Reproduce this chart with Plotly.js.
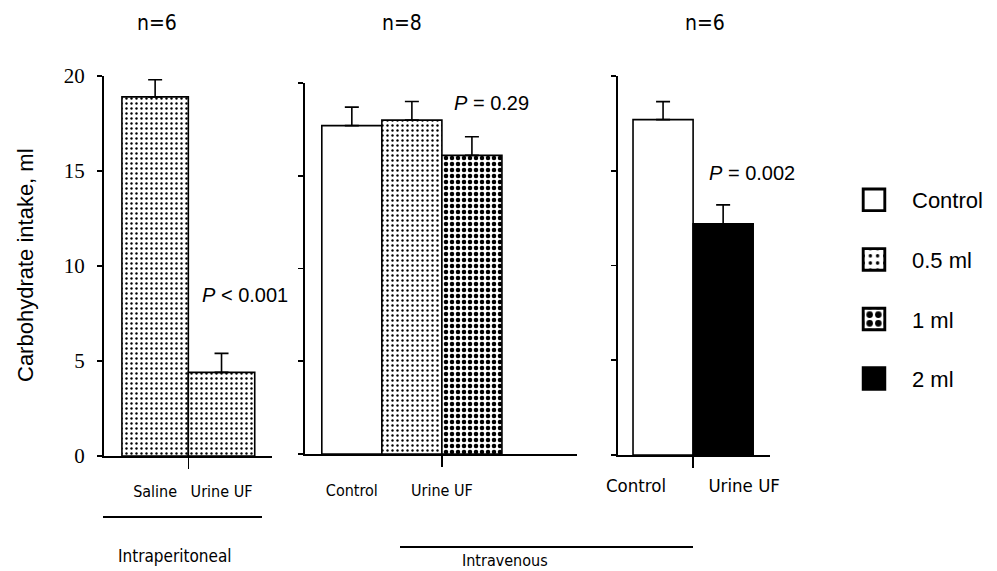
<!DOCTYPE html>
<html>
<head>
<meta charset="utf-8">
<script src="https://cdn.plot.ly/plotly-3.0.1.min.js"></script>
<style>html,body{margin:0;padding:0;background:#fff}#chart{width:997px;height:571px}</style>
</head>
<body>
<div id="chart"></div>
<script>
// ---- data ----
const groupNames = ["Control", "0.5 ml", "1 ml", "2 ml"];
// Panel 1: intraperitoneal (n=6)
const ipCategories = ["Saline", "Urine UF"];
const ipValues = [18.9, 4.4];
const ipSem = [0.9, 1.0];
// Panel 2: intravenous (n=8): Control, 0.5 ml UF, 1 ml UF
const iv1Categories = ["Control", "Urine UF"];
const iv1Values = [17.7, 18.0, 16.1];
const iv1Sem = [1.0, 1.0, 1.0];
// Panel 3: intravenous (n=6): Control, 2 ml UF
const iv2Categories = ["Control", "Urine UF"];
const iv2Values = [17.7, 12.2];
const iv2Sem = [0.95, 1.0];
const nLabels = ["n=6", "n=8", "n=6"];
const pLabels = ["<i>P</i> < 0.001", "<i>P</i> = 0.29", "<i>P</i> = 0.002"];
const routeLabels = ["Intraperitoneal", "Intravenous"];
const yTitle = "Carbohydrate intake, ml";

// ---- helpers ----
const W = 997, H = 571;
const fx = p => p / W, fy = p => 1 - p / H;
const narrow = "Liberation Sans Narrow, DejaVu Sans Condensed, Liberation Sans, Arial, sans-serif";
const sans = "Liberation Sans, Arial, Helvetica, sans-serif";

const styles = {
  "Control": {color: "white"},
  "0.5 ml": {color: "white", pattern: {shape: ".", fgcolor: "black", bgcolor: "white", size: 5, solidity: 0.18}},
  "1 ml": {color: "white", pattern: {shape: ".", fgcolor: "black", bgcolor: "white", size: 6, solidity: 0.45}},
  "2 ml": {color: "black"}
};

function bar(group, xs, ys, sem, xa, ya, showlegend) {
  return {
    type: "bar", x: xs, y: ys, xaxis: xa, yaxis: ya, width: 1,
    name: group, legendgroup: group, showlegend: showlegend,
    marker: Object.assign({line: {color: "black", width: 1.6}}, styles[group]),
    error_y: {type: "data", symmetric: false, array: sem, arrayminus: sem.map(() => 0),
              color: "black", thickness: 1.6, width: 7},
    hoverinfo: "skip"
  };
}

const idx = a => a.map((_, i) => i);
const data = [
  bar("Control", [0], [iv1Values[0]], [iv1Sem[0]], "x2", "y2", true),
  bar("Control", [0], [iv2Values[0]], [iv2Sem[0]], "x3", "y3", false),
  bar("0.5 ml", idx(ipValues), ipValues, ipSem, "x", "y", true),
  bar("0.5 ml", [1], [iv1Values[1]], [iv1Sem[1]], "x2", "y2", false),
  bar("1 ml", [2], [iv1Values[2]], [iv1Sem[2]], "x2", "y2", true),
  bar("2 ml", [1], [iv2Values[1]], [iv2Sem[1]], "x3", "y3", true)
];

function xaxis(anchor, domainPx, range, tickvals, ticktext, boundary, fsize, standoff) {
  return {
    anchor: anchor,
    domain: [fx(domainPx[0]), fx(domainPx[1])], range: range,
    showline: true, linecolor: "black", linewidth: 2, zeroline: false, showgrid: false,
    tickmode: "array", tickvals: tickvals, ticktext: ticktext, ticks: "", ticklen: 0,
    ticklabelstandoff: standoff,
    tickfont: {family: narrow, size: fsize, color: "black"},
    minor: {tickmode: "array", tickvals: boundary, ticks: "outside", ticklen: 11, tickwidth: 1.6, tickcolor: "black"},
    fixedrange: true
  };
}
function yaxis(anchor, domainPx, range, labels) {
  return {
    anchor: anchor,
    domain: [fy(domainPx[1]), fy(domainPx[0])], range: range,
    showline: true, linecolor: "black", linewidth: 2, zeroline: false, showgrid: false,
    tickmode: "linear", tick0: 0, dtick: 5, ticks: "outside", ticklen: 5, tickwidth: 1.6, tickcolor: "black",
    showticklabels: labels, ticklabelstandoff: 8,
    tickfont: {family: "Liberation Serif, Times New Roman, serif", size: 21, color: "black"},
    fixedrange: true
  };
}

const ann = (text, xp, yp, size, family, extra) => Object.assign({
  text: text, xref: "paper", yref: "paper", x: fx(xp), y: fy(yp),
  xanchor: "center", yanchor: "middle", showarrow: false,
  font: {family: family, size: size, color: "black"}
}, extra || {});

const layout = {
  width: W, height: H,
  margin: {l: 0, r: 0, t: 0, b: 0},
  paper_bgcolor: "white", plot_bgcolor: "rgba(0,0,0,0)",
  barmode: "overlay",
  xaxis: xaxis("y", [104, 272], [-0.77, 1.76], idx(ipCategories), ipCategories, [0.5], 16, 20),
  yaxis: yaxis("x", [76, 456], [0, 20], true),
  xaxis2: xaxis("y2", [305, 577], [-0.78, 3.75], [0, 1.5], iv1Categories, [1.5], 16, 21),
  yaxis2: yaxis("x2", [83, 454], [0, 20], false),
  xaxis3: xaxis("y3", [618, 770], [-0.75, 1.78], [-0.45, 1.35], iv2Categories, [0.5], 18.5, 13),
  yaxis3: yaxis("x3", [76, 455], [0, 20], false),
  showlegend: true,
  legend: {x: fx(836), xanchor: "left", y: fy(179), yanchor: "top",
           font: {family: sans, size: 22, color: "black"},
           traceorder: "grouped", tracegroupgap: 28, itemwidth: 66, bgcolor: "rgba(0,0,0,0)"},
  shapes: [
    {type: "line", xref: "paper", yref: "paper", x0: fx(103), x1: fx(262), y0: fy(517), y1: fy(517), line: {color: "black", width: 2}},
    {type: "line", xref: "paper", yref: "paper", x0: fx(400), x1: fx(693), y0: fy(547), y1: fy(547), line: {color: "black", width: 2}}
  ],
  annotations: [
    ann(yTitle, 26, 265, 22, sans, {textangle: -90}),
    ann(nLabels[0], 157, 23, 21, narrow),
    ann(nLabels[1], 402, 23, 21, narrow),
    ann(nLabels[2], 705, 23, 21, narrow),
    ann(pLabels[0], 245, 295, 20, sans),
    ann(pLabels[1], 491, 103, 20, sans),
    ann(pLabels[2], 752, 173, 20, sans),
    ann(routeLabels[0], 175, 556, 17, narrow),
    ann(routeLabels[1], 505, 560, 16, narrow)
  ]
};

Plotly.newPlot("chart", data, layout, {displayModeBar: false, staticPlot: true}).then(gd => {
  // enlarge legend swatches to match the boxed keys of the original figure
  gd.querySelectorAll(".legend .legendpoints path").forEach(p => {
    const t = p.getAttribute("transform") || "";
    p.setAttribute("transform", t + " scale(1.8)");
  });
});
</script>
</body>
</html>
